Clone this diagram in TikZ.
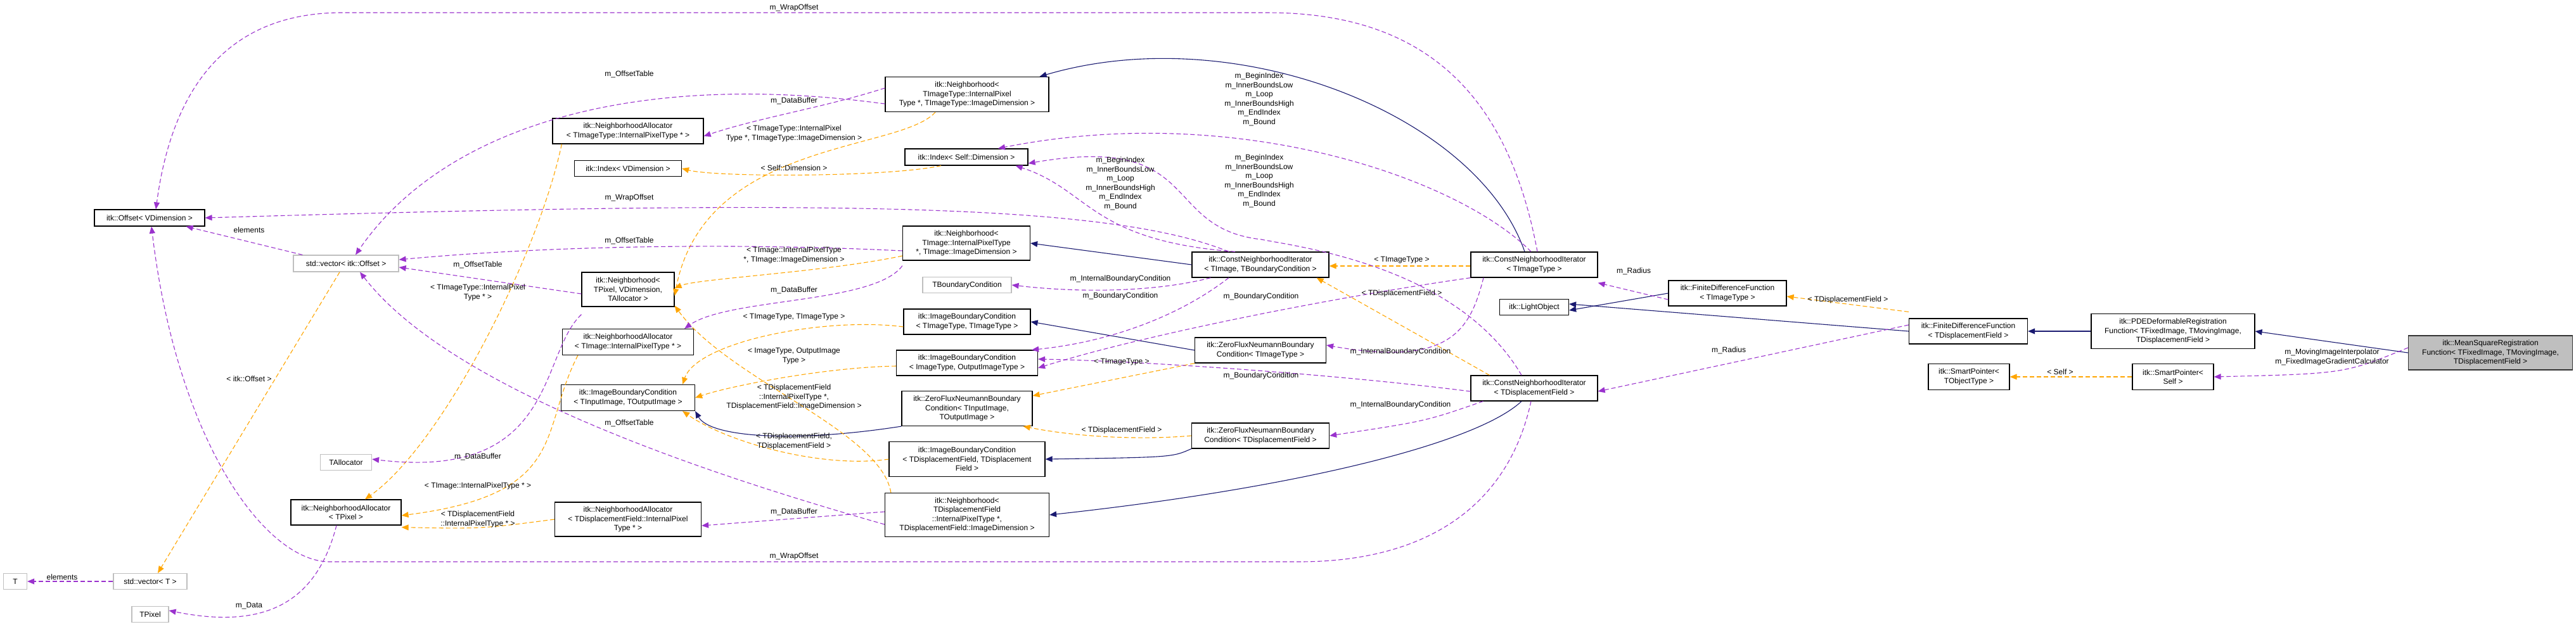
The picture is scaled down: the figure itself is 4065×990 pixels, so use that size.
\documentclass[tikz,border=0pt]{standalone}
\usepackage{fontspec}
\setmainfont{Liberation Sans}
\usetikzlibrary{arrows.meta}
\definecolor{inhc}{HTML}{191970}
\definecolor{usec}{HTML}{9A32CD}
\definecolor{tplc}{HTML}{FFA500}
\definecolor{gbord}{HTML}{BFBFBF}
\begin{document}
\begin{tikzpicture}[x=1pt,y=-1pt,
  font=\fontsize{12}{14.5}\selectfont,
  box/.style={draw=black,line width=1.2pt,fill=white,align=center,inner sep=2pt},
  gbox/.style={box,draw=gbord},
  lbl/.style={align=center,inner sep=1pt},
  tip/.style={-{Triangle[length=11pt,width=9pt]}},
  inh/.style={tip,draw=inhc,line width=1.1pt},
  use/.style={tip,draw=usec,dashed,dash pattern=on 7pt off 4pt,line width=1.1pt,color=usec},
  tpl/.style={tip,draw=tplc,dashed,dash pattern=on 7pt off 4pt,line width=1.1pt,color=tplc}]
\useasboundingbox (0,0) rectangle (4065,990);
% nodes
\node[box,minimum width=174,minimum height=26] (off) at (236,344) {itk::Offset< VDimension >};
\node[gbox,minimum width=166,minimum height=26] (vecoff) at (546,416) {std::vector< itk::Offset >};
\node[box,minimum width=238,minimum height=40] (naimgt) at (991,207) {itk::NeighborhoodAllocator\\< TImageType::InternalPixelType * >};
\node[box,minimum width=169,minimum height=25] (idxv) at (991,266) {itk::Index< VDimension >};
\node[box,minimum width=146,minimum height=54] (nbtp) at (991,457) {itk::Neighborhood<\\ TPixel, VDimension,\\ TAllocator >};
\node[box,minimum width=207,minimum height=41] (naimg) at (991,540) {itk::NeighborhoodAllocator\\< TImage::InternalPixelType * >};
\node[box,minimum width=211,minimum height=41] (ibcin) at (991,628) {itk::ImageBoundaryCondition\\< TInputImage, TOutputImage >};
\node[gbox,minimum width=81,minimum height=25] (talloc) at (546,730) {TAllocator};
\node[box,minimum width=174,minimum height=40] (natp) at (546,809) {itk::NeighborhoodAllocator\\< TPixel >};
\node[box,minimum width=231,minimum height=54] (nadisp) at (991,820) {itk::NeighborhoodAllocator\\< TDisplacementField::InternalPixel\\Type * >};
\node[gbox,minimum width=37,minimum height=25] (T) at (24,918) {T};
\node[gbox,minimum width=116,minimum height=25] (vect) at (237,918) {std::vector< T >};
\node[gbox,minimum width=58,minimum height=25] (tpix) at (237,970) {TPixel};
\node[box,minimum width=258,minimum height=55] (nbtit) at (1526,149) {itk::Neighborhood<\\ TImageType::InternalPixel\\Type *, TImageType::ImageDimension >};
\node[box,minimum width=194,minimum height=26] (idxself) at (1525,248) {itk::Index< Self::Dimension >};
\node[box,minimum width=201,minimum height=54] (nbti) at (1525,384) {itk::Neighborhood<\\ TImage::InternalPixelType\\ *, TImage::ImageDimension >};
\node[box,minimum width=216,minimum height=40] (cnitbc) at (1989,418) {itk::ConstNeighborhoodIterator\\< TImage, TBoundaryCondition >};
\node[gbox,minimum width=140,minimum height=25] (tbc) at (1526,450) {TBoundaryCondition};
\node[box,minimum width=200,minimum height=40] (ibctt) at (1526,508) {itk::ImageBoundaryCondition\\< TImageType, TImageType >};
\node[box,minimum width=223,minimum height=40] (ibcio) at (1526,573) {itk::ImageBoundaryCondition\\< ImageType, OutputImageType >};
\node[box,minimum width=206,minimum height=55] (zfnin) at (1526,645) {itk::ZeroFluxNeumannBoundary\\Condition< TInputImage,\\ TOutputImage >};
\node[box,minimum width=207,minimum height=40] (zfnt) at (1989,553) {itk::ZeroFluxNeumannBoundary\\Condition< TImageType >};
\node[box,minimum width=246,minimum height=55] (ibcd) at (1526,725) {itk::ImageBoundaryCondition\\< TDisplacementField, TDisplacement\\Field >};
\node[box,minimum width=217,minimum height=40] (zfnd) at (1989,688) {itk::ZeroFluxNeumannBoundary\\Condition< TDisplacementField >};
\node[box,minimum width=259,minimum height=69] (nbtd) at (1526,813) {itk::Neighborhood<\\ TDisplacementField\\::InternalPixelType *,\\ TDisplacementField::ImageDimension >};
\node[box,minimum width=200,minimum height=40] (cnit) at (2421,418) {itk::ConstNeighborhoodIterator\\< TImageType >};
\node[box,minimum width=186,minimum height=40] (fdft) at (2726,463) {itk::FiniteDifferenceFunction\\< TImageType >};
\node[box,minimum width=109,minimum height=25] (light) at (2421,485) {itk::LightObject};
\node[box,minimum width=200,minimum height=40] (cnid) at (2421,613) {itk::ConstNeighborhoodIterator\\< TDisplacementField >};
\node[box,minimum width=187,minimum height=40] (fdfd) at (3106,523) {itk::FiniteDifferenceFunction\\< TDisplacementField >};
\node[box,minimum width=128,minimum height=41] (spto) at (3107,595) {itk::SmartPointer<\\ TObjectType >};
\node[box,minimum width=258,minimum height=55] (pde) at (3429,523) {itk::PDEDeformableRegistration\\Function< TFixedImage, TMovingImage,\\ TDisplacementField >};
\node[box,minimum width=259,minimum height=54,fill=gbord,draw=black!80] (msr) at (3930,557) {itk::MeanSquareRegistration\\Function< TFixedImage, TMovingImage,\\ TDisplacementField >};
\node[box,minimum width=128,minimum height=41] (spself) at (3429,595) {itk::SmartPointer<\\ Self >};
% inheritance
\draw[inh] ([xshift=-15]cnit.north) .. controls (2330,180) and (1950,30) .. ([xshift=-15]nbtit.north east);
\draw[inh] (cnitbc.west) -- (nbti.east);
\draw[inh] (zfnt.west) -- (ibctt.east);
\draw[inh] (zfnin.south west) .. controls (1250,700) and (1120,690) .. (ibcin.south east);
\draw[inh] (zfnd.south west) .. controls (1850,722) .. (ibcd.east);
\draw[inh] ([xshift=-20]cnid.south) .. controls (2330,700) and (2050,770) .. (nbtd.east);
\draw[inh] (fdft.west) -- ([yshift=-5]light.east);
\draw[inh] (fdfd.west) -- ([yshift=5]light.east);
\draw[inh] (pde.west) -- (fdfd.east);
\draw[inh] (msr.west) -- (pde.east);
% template instantiation
\draw[tpl] ([xshift=15]naimgt.south west) .. controls (850,400) and (700,700) .. ([xshift=30]natp.north);
\draw[tpl] ([xshift=25]naimg.south west) .. controls (850,680) and (900,780) .. ([yshift=-5]natp.east);
\draw[tpl] (nadisp.west) .. controls (760,835) .. ([yshift=-3]natp.south east);
\draw[tpl] ([xshift=-10]vecoff.south) -- ([xshift=12]vect.north);
\draw[tpl] ([xshift=-50]nbtit.south) .. controls (1420,240) and (1110,220) .. ([yshift=-10]nbtp.east);
\draw[tpl] ([xshift=-40]idxself.south) .. controls (1400,280) and (1130,280) .. (idxv.east);
\draw[tpl] ([yshift=-20]nbti.west) .. controls (1300,430) and (1100,440) .. ([yshift=2]nbtp.east);
\draw[tpl] ([xshift=10]nbtd.north west) .. controls (1390,680) and (1150,600) .. ([yshift=2]nbtp.south east);
\draw[tpl] ([yshift=-8]ibctt.west) .. controls (1300,500) and (1100,540) .. ([xshift=-20]ibcin.north east);
\draw[tpl] ([yshift=-5]ibcio.west) .. controls (1300,580) and (1150,610) .. (ibcin.east);
\draw[tpl] (ibcd.west) .. controls (1300,740) and (1150,700) .. ([xshift=-20]ibcin.south east);
\draw[tpl] (zfnt.south west) -- ([yshift=-8]zfnin.north east);
\draw[tpl] (zfnd.west) .. controls (1800,695) and (1700,690) .. ([xshift=-15]zfnin.south east);
\draw[tpl] ([yshift=-2]cnit.west) -- ([yshift=-2]cnitbc.east);
\draw[tpl] ([xshift=30]cnid.north west) .. controls (2240,530) .. ([xshift=-20]cnitbc.south east);
\draw[tpl] ([yshift=10]fdfd.north west) -- ([yshift=-5]fdft.east);
\draw[tpl] (spself.west) -- (spto.east);
% usage
\draw[use] ([xshift=5]cnit.north) .. controls (2380,150) and (2250,20) .. (2000,20) -- (540,20) .. controls (350,20) and (270,150) .. ([xshift=10]off.north);
\draw[use] ([xshift=-5]cnid.south) .. controls (2380,800) and (2250,887) .. (2050,887) -- (520,887) .. controls (420,887) and (280,700) .. ([xshift=3]off.south);
\draw[use] ([xshift=-50]cnitbc.north) .. controls (1750,320) and (1300,315) .. (off.east);
\draw[use] ([yshift=-15]nbtit.west) .. controls (1000,110) and (700,200) .. ([xshift=15]vecoff.north);
\draw[use] ([yshift=-12]nbti.west) .. controls (1200,385) and (900,385) .. ([yshift=6]vecoff.east);
\draw[use] ([yshift=-7]nbtp.west) -- ([yshift=-6]vecoff.east);
\draw[use] ([yshift=-15]nbtd.west) .. controls (1050,730) and (700,600) .. ([xshift=22]vecoff.south);
\draw[use] ([xshift=15]vecoff.north west) -- ([xshift=-30]off.south east);
\draw[use] (vect.west) -- (T.east);
\draw[use] ([xshift=-15]natp.south) .. controls (500,950) and (420,995) .. ([yshift=6]tpix.east);
\draw[use] ([yshift=-12]nbtp.south west) .. controls (850,560) and (880,760) .. ([yshift=5]talloc.east);
\draw[use] ([yshift=10]nbtit.west) .. controls (1300,170) and (1200,185) .. ([yshift=-8]naimgt.east);
\draw[use] ([yshift=-8]nbti.south west) .. controls (1380,480) and (1150,470) .. ([xshift=-15]naimg.north east);
\draw[use] ([yshift=5]nbtd.west) -- ([yshift=-10]nadisp.east);
\draw[use] ([xshift=-5]cnit.north) .. controls (2300,280) and (1950,160) .. ([xshift=50]idxself.north);
\draw[use] ([xshift=-40]cnitbc.north) .. controls (1720,380) and (1720,300) .. ([xshift=-20]idxself.south east);
\draw[use] ([xshift=-20]cnid.north) .. controls (2300,420) and (2050,390) .. (1990,378) .. controls (1830,360) and (1900,210) .. ([yshift=-10]idxself.east);
\draw[use] ([xshift=30]cnitbc.south west) .. controls (1820,462) and (1700,462) .. (tbc.east);
\draw[use] ([xshift=-50]cnitbc.south) .. controls (1860,500) and (1750,540) .. ([xshift=-10]ibcio.north east);
\draw[use] (cnit.south west) .. controls (2100,470) and (1800,530) .. ([yshift=-8]ibcio.east);
\draw[use] ([yshift=-5]cnid.west) .. controls (2100,590) and (1800,570) .. ([yshift=6]ibcio.east);
\draw[use] ([xshift=-80]cnit.south) .. controls (2320,520) and (2290,580) .. ([yshift=8]zfnt.east);
\draw[use] ([xshift=20]cnid.south west) .. controls (2250,665) .. (zfnd.east);
\draw[use] ([yshift=-10]fdft.west) -- ([yshift=-8]cnit.south east);
\draw[use] ([yshift=10]fdfd.west) -- ([yshift=-5]cnid.east);
\draw[use] ([yshift=8]msr.west) .. controls (3700,590) .. (spself.east);
% labels
\node[lbl] (l1) at (1253,12) {m\_WrapOffset};
\node[lbl] (l2) at (1253,878) {m\_WrapOffset};
\node[lbl] (l3) at (993,312) {m\_WrapOffset};
\node[lbl] (l4) at (993,117) {m\_OffsetTable};
\node[lbl] (l5) at (993,380) {m\_OffsetTable};
\node[lbl] (l6) at (754,418) {m\_OffsetTable};
\node[lbl] (l7) at (993,668) {m\_OffsetTable};
\node[lbl] (l8) at (393,363) {elements};
\node[lbl] (l9) at (98,911) {elements};
\node[lbl] (l10) at (393,957) {m\_Data};
\node[lbl] (l11) at (754,721) {m\_DataBuffer};
\node[lbl] (l12) at (1253,159) {m\_DataBuffer};
\node[lbl] (l13) at (1253,458) {m\_DataBuffer};
\node[lbl] (l14) at (1253,808) {m\_DataBuffer};
\node[lbl] (l15) at (1987,157) {m\_BeginIndex\\m\_InnerBoundsLow\\m\_Loop\\m\_InnerBoundsHigh\\m\_EndIndex\\m\_Bound};
\node[lbl] (l16) at (1768,290) {m\_BeginIndex\\m\_InnerBoundsLow\\m\_Loop\\m\_InnerBoundsHigh\\m\_EndIndex\\m\_Bound};
\node[lbl] (l17) at (1987,286) {m\_BeginIndex\\m\_InnerBoundsLow\\m\_Loop\\m\_InnerBoundsHigh\\m\_EndIndex\\m\_Bound};
\node[lbl] (l18) at (1768,440) {m\_InternalBoundaryCondition};
\node[lbl] (l19) at (1768,467) {m\_BoundaryCondition};
\node[lbl] (l20) at (1990,468) {m\_BoundaryCondition};
\node[lbl] (l21) at (1990,593) {m\_BoundaryCondition};
\node[lbl] (l22) at (2210,555) {m\_InternalBoundaryCondition};
\node[lbl] (l23) at (2210,639) {m\_InternalBoundaryCondition};
\node[lbl] (l24) at (2578,428) {m\_Radius};
\node[lbl] (l25) at (2728,553) {m\_Radius};
\node[lbl] (l26) at (3680,564) {m\_MovingImageInterpolator\\m\_FixedImageGradientCalculator};
\node[lbl] (t1) at (754,462) {< TImageType::InternalPixel\\Type * >};
\node[lbl] (t2) at (754,767) {< TImage::InternalPixelType * >};
\node[lbl] (t3) at (754,820) {< TDisplacementField\\::InternalPixelType * >};
\node[lbl] (t4) at (393,598) {< itk::Offset >};
\node[lbl] (t5) at (1253,211) {< TImageType::InternalPixel\\Type *, TImageType::ImageDimension >};
\node[lbl] (t6) at (1253,265) {< Self::Dimension >};
\node[lbl] (t7) at (1253,403) {< TImage::InternalPixelType\\*, TImage::ImageDimension >};
\node[lbl] (t8) at (1253,627) {< TDisplacementField\\::InternalPixelType *,\\TDisplacementField::ImageDimension >};
\node[lbl] (t9) at (1253,501) {< TImageType, TImageType >};
\node[lbl] (t10) at (1253,562) {< ImageType, OutputImage\\Type >};
\node[lbl] (t11) at (1253,697) {< TDisplacementField,\\TDisplacementField >};
\node[lbl] (t12) at (1770,572) {< TImageType >};
\node[lbl] (t13) at (1770,679) {< TDisplacementField >};
\node[lbl] (t14) at (2212,411) {< TImageType >};
\node[lbl] (t15) at (2212,463) {< TDisplacementField >};
\node[lbl] (t16) at (2916,473) {< TDisplacementField >};
\node[lbl] (t17) at (3251,587) {< Self >};
\end{tikzpicture}
\end{document}
